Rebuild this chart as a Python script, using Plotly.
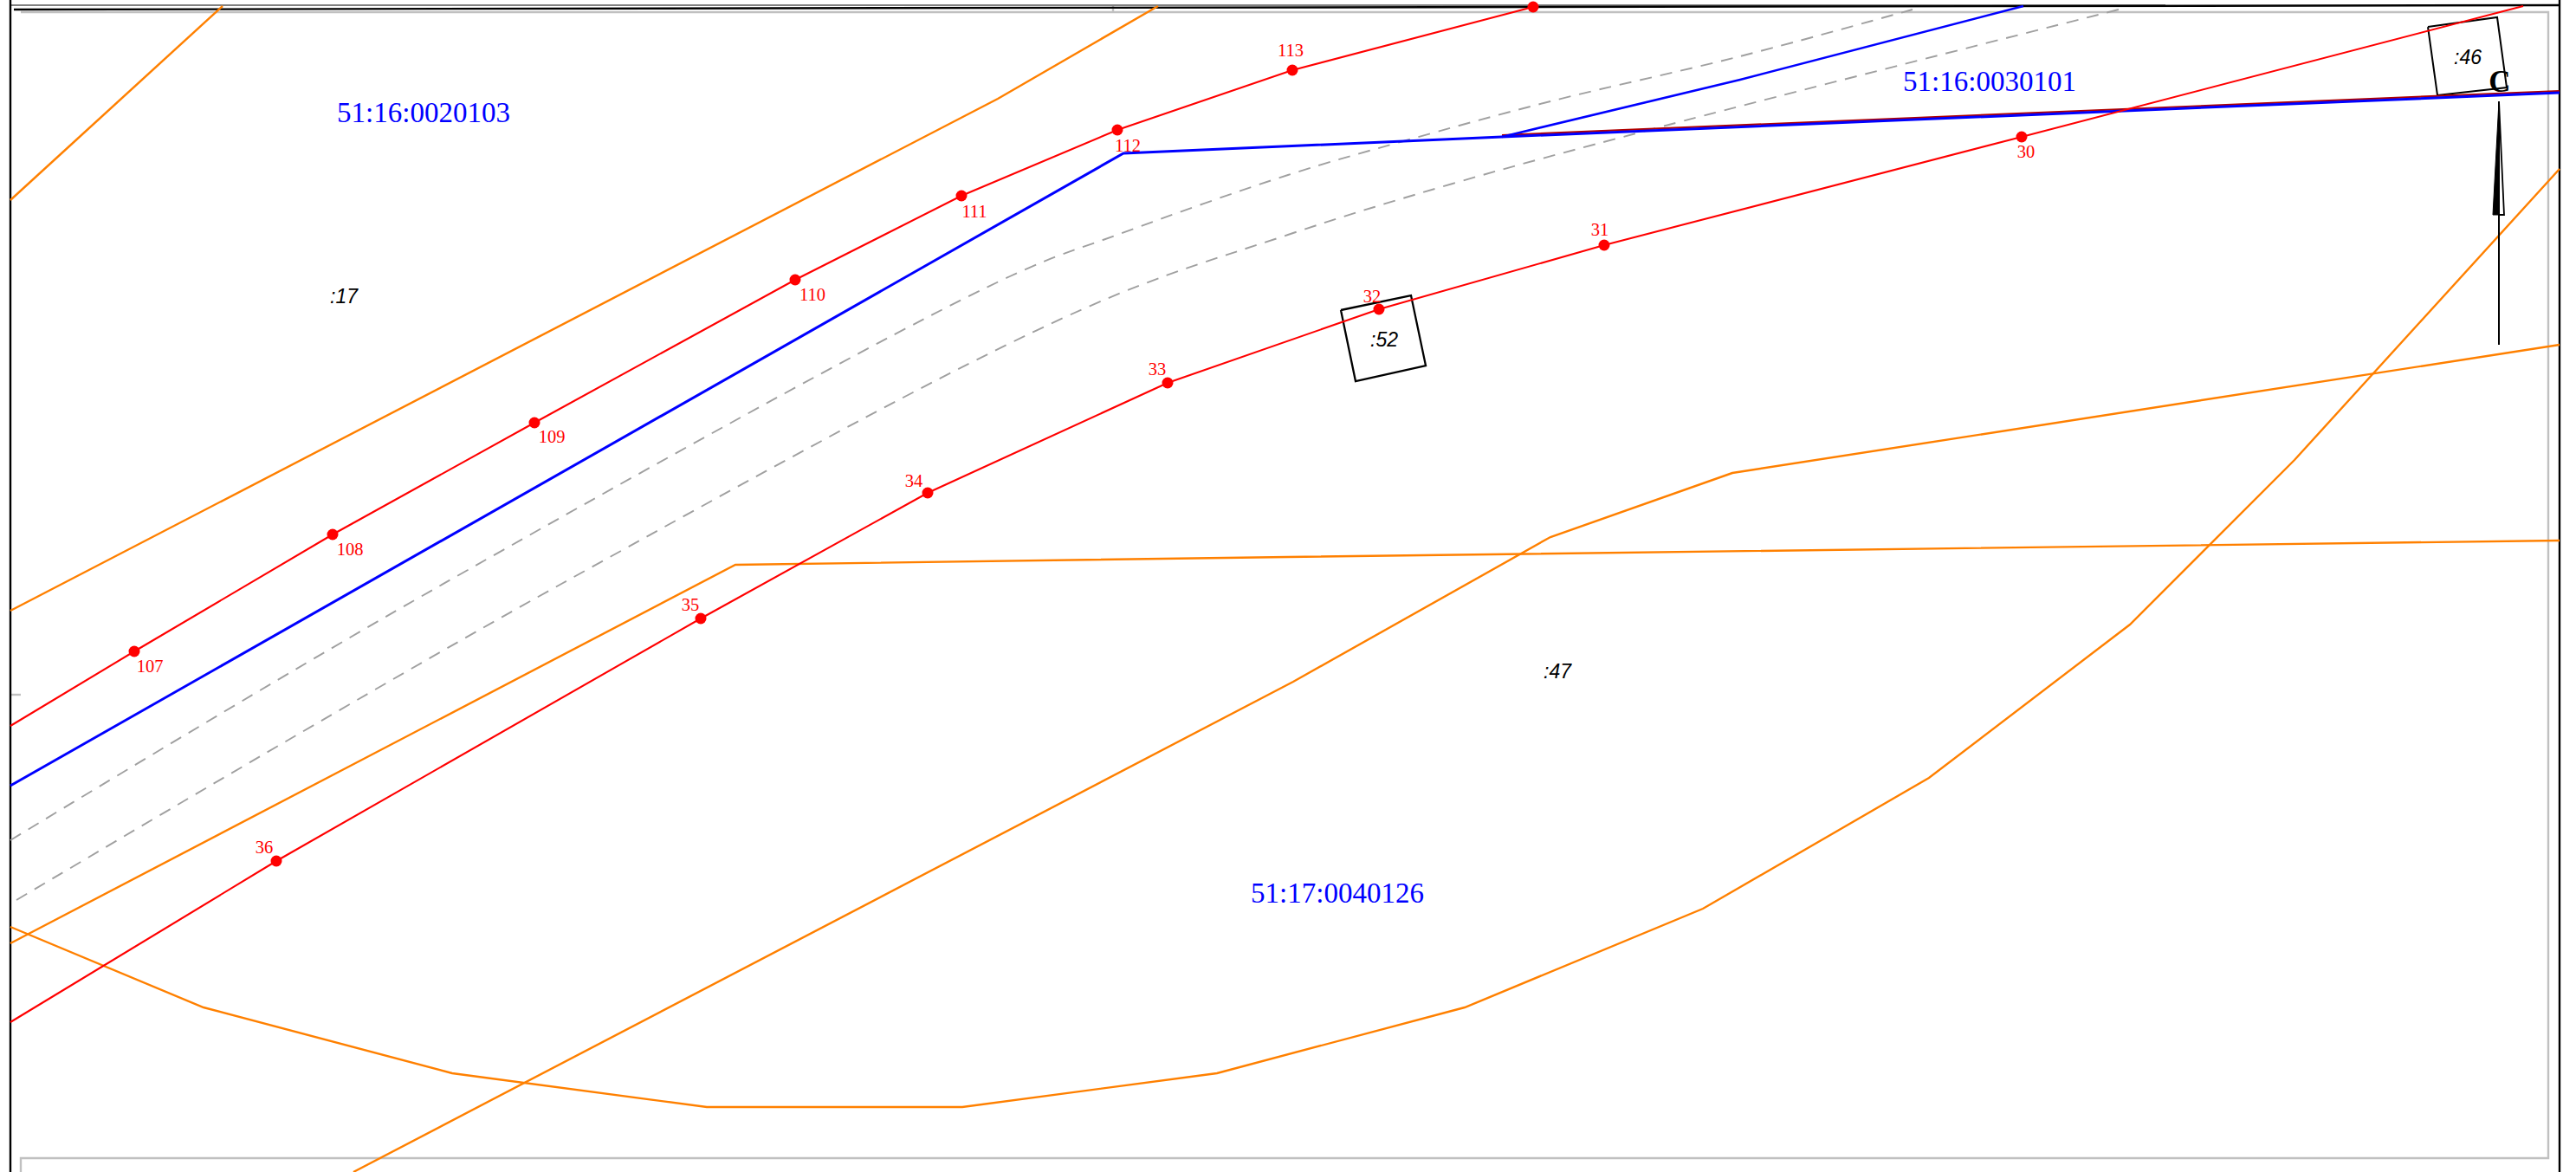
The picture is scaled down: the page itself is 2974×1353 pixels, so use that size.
import plotly.graph_objects as go

W, H = 2974, 1353

# polyline vertices (x, y in image units)
orange_a_x = [12, 257]
orange_a_y = [231, 7]
orange_b_x = [12, 1152, 1337]
orange_b_y = [705, 114, 7]
orange_c_x = [12, 849, 1487, 2955]
orange_c_y = [1089, 652, 643, 624]
orange_d_x = [408, 1493, 1790, 2000, 2955]
orange_d_y = [1353, 787, 620, 546, 398]
orange_e_x = [12, 235, 522, 816, 1111, 1405, 1691, 1966, 2227, 2459, 2649, 2955]
orange_e_y = [1070, 1163, 1239, 1278, 1278, 1239, 1163, 1049, 898, 721, 531, 195]

dash_a_x = [12, 503, 1166, 1290, 1487, 1620, 1790, 2009, 2208]
dash_a_y = [970, 679, 319, 271, 202, 163, 117, 65, 11]
dash_b_x = [19, 650, 1252, 1487, 1677, 1904, 2454]
dash_b_y = [1039, 673, 356, 271, 212, 150, 9]

blue_a_x = [12, 1297, 1734, 2955]
blue_a_y = [907, 177, 158, 107]
blue_b_x = [1734, 2009, 2336]
blue_b_y = [158, 92, 7]

red_shared_x = [1734, 2955]
red_shared_y = [156, 105]

red_north_x = [12, 155, 384, 617, 918, 1110, 1290, 1492, 1770]
red_north_y = [838, 752, 617, 488, 323, 226, 150, 81, 8]
red_north_pts_x = [155, 384, 617, 918, 1110, 1290, 1492, 1770]
red_north_pts_y = [752, 617, 488, 323, 226, 150, 81, 8]

red_south_x = [12, 319, 809, 1071, 1348, 1592, 1852, 2334, 2913]
red_south_y = [1180, 994, 714, 569, 442, 357, 283, 158, 7]
red_south_pts_x = [319, 809, 1071, 1348, 1592, 1852, 2334]
red_south_pts_y = [994, 714, 569, 442, 357, 283, 158]

point_labels = ["107", "108", "109", "110", "111", "112", "113",
                "36", "35", "34", "33", "32", "31", "30"]
point_label_x = [173, 404, 637, 938, 1125, 1302, 1490,
                 305, 797, 1055, 1336, 1584, 1847, 2339]
point_label_y = [771, 636, 506, 342, 246, 170, 60,
                 980, 700, 557, 428, 344, 267, 177]

quarter_labels = ["51:16:0020103", "51:16:0030101", "51:17:0040126"]
quarter_x = [489, 2297, 1544]
quarter_y = [133, 97, 1034]

parcel_labels = [":17", ":47", ":52", ":46"]
parcel_x = [397, 1798, 1598, 2849]
parcel_y = [344, 777, 394, 68]

box_52_x = [1548, 1629, 1646, 1565, 1548]
box_52_y = [358, 341, 422, 440, 358]
box_46_x = [2803, 2883, 2894, 2814, 2803]
box_46_y = [31, 20, 101, 110, 31]

north_stem_x = [2885, 2885]
north_stem_y = [117, 398]
north_fill_x = [2885, 2878, 2885, 2885]
north_fill_y = [117, 248, 248, 117]
north_open_x = [2885, 2891, 2885]
north_open_y = [117, 248, 248]
north_label = ["С"]
north_label_x = [2886]
north_label_y = [97]

frame_black_x = [[12, 12], [2955, 2955], [16, 2955]]
frame_black_y = [[0, 1353], [0, 1353], [11, 6]]
frame_dark_x = [[12, 2500]]
frame_dark_y = [[6, 6]]
frame_grey_x = [[24, 2942, 2942, 24, 24], [12, 24], [1285, 1285]]
frame_grey_y = [[14, 14, 1337, 1337, 1353], [802, 802], [5, 14]]

ORANGE = "#ff8000"
RED = "#ff0000"
BLUE = "#0000ff"
GREY = "#c0c0c0"
DASH = "#a0a0a0"

fig = go.Figure()


def line(x, y, color, width, dash=None, fill=None, shape="linear"):
    fig.add_trace(go.Scatter(
        x=x, y=y, mode="lines", hoverinfo="skip", showlegend=False,
        line=dict(color=color, width=width, dash=dash, shape=shape),
        fill=fill, fillcolor=color if fill else None))


for x, y in zip(frame_grey_x, frame_grey_y):
    line(x, y, GREY, 2.4)
for x, y in zip(frame_dark_x, frame_dark_y):
    line(x, y, "#808080", 2.2)
for x, y in zip(frame_black_x, frame_black_y):
    line(x, y, "#000000", 2.4)

line(orange_a_x, orange_a_y, ORANGE, 2.4)
line(orange_b_x, orange_b_y, ORANGE, 2.4)
line(orange_c_x, orange_c_y, ORANGE, 2.4)
line(orange_d_x, orange_d_y, ORANGE, 2.4)
line(orange_e_x, orange_e_y, ORANGE, 2.4)
line(dash_a_x, dash_a_y, DASH, 1.9, "14px,10px", shape="spline")
line(dash_b_x, dash_b_y, DASH, 1.9, "14px,10px", shape="spline")
line(box_52_x, box_52_y, "#000000", 2.3)
line(box_46_x, box_46_y, "#000000", 2)
line(red_shared_x, red_shared_y, "#b00000", 2.2)
line(blue_a_x, blue_a_y, BLUE, 3)
line(blue_b_x, blue_b_y, BLUE, 2.6)
line(red_north_x, red_north_y, RED, 2.1)
line(red_south_x, red_south_y, RED, 2.1)
line(north_stem_x, north_stem_y, "#000000", 2)
line(north_fill_x, north_fill_y, "#000000", 1, fill="toself")
line(north_open_x, north_open_y, "#000000", 1.8)

for x, y in ((red_north_pts_x, red_north_pts_y), (red_south_pts_x, red_south_pts_y)):
    fig.add_trace(go.Scatter(
        x=x, y=y, mode="markers", hoverinfo="skip", showlegend=False,
        marker=dict(color=RED, size=13, line=dict(width=0))))


def labels(x, y, text, font):
    fig.add_trace(go.Scatter(
        x=x, y=y, text=text, mode="text", textposition="middle center",
        hoverinfo="skip", showlegend=False, textfont=font))


labels(point_label_x, point_label_y, point_labels,
       dict(family="Liberation Serif", size=20.5, color=RED))
labels(quarter_x, quarter_y, quarter_labels,
       dict(family="Liberation Serif", size=33, color=BLUE))
labels(parcel_x, parcel_y, parcel_labels,
       dict(family="Liberation Sans", size=23, color="#000000", style="italic"))
labels(north_label_x, north_label_y, north_label,
       dict(family="Liberation Serif", size=35, color="#000000", weight="bold"))

fig.update_xaxes(visible=False, range=[0, W], fixedrange=True)
fig.update_yaxes(visible=False, range=[H, 0], fixedrange=True)
fig.update_layout(
    width=W, height=H, autosize=False,
    margin=dict(l=0, r=0, t=0, b=0, pad=0),
    paper_bgcolor="#ffffff", plot_bgcolor="#ffffff",
    showlegend=False)

fig.write_html(
    "out.html",
    config={"displayModeBar": False},
    post_script="document.body.style.margin='0';document.documentElement.style.overflow='hidden';")
